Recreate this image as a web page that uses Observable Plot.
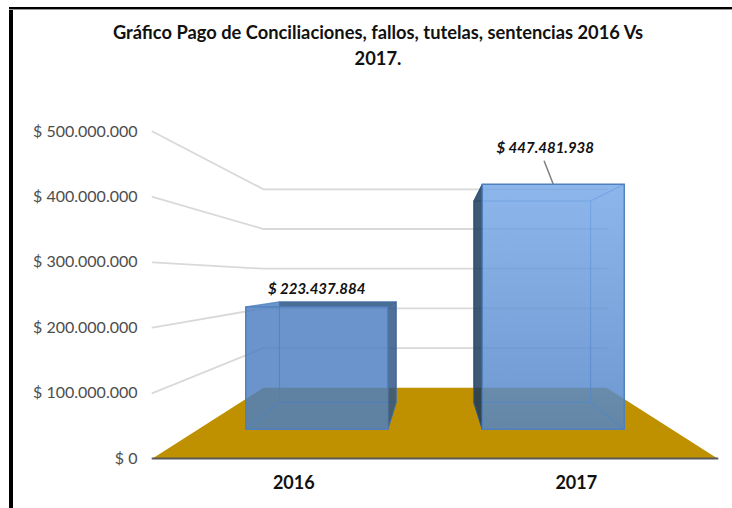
<!DOCTYPE html>
<html>
<head>
<meta charset="utf-8">
<script src="https://cdn.jsdelivr.net/npm/d3@7"></script>
<script src="https://cdn.jsdelivr.net/npm/@observablehq/plot@0.6"></script>
<style>
html,body{margin:0;padding:0;background:#fff;}
#page{position:relative;width:732px;height:508px;overflow:hidden;font-family:Lato,sans-serif;}
#left{position:absolute;left:9px;top:7px;width:3.5px;height:501px;background:#000;}
#top{position:absolute;left:9px;top:7px;right:0;height:2px;background:#000;border-bottom:1px solid #999;}
#title{position:absolute;left:12px;top:19px;width:732px;text-align:center;font-weight:700;font-size:18.3px;line-height:26px;color:#111;}
#chart{position:absolute;left:0;top:80px;}
#chart svg{display:block;background:transparent;}
</style>
</head>
<body>
<div id="page">
  <div id="left"></div><div id="top"></div>
  <div id="title">Gráfico Pago de Conciliaciones, fallos, tutelas, sentencias 2016 Vs<br>2017.</div>
  <div id="chart"></div>
</div>
<script>
// ---- chart values ----
const categories = ["2016", "2017"];
const payments = [223437884, 447481938];
const tickValues = [0, 100000000, 200000000, 300000000, 400000000, 500000000];

// ---- 3D view of the Excel chart, in data units ----
const horizonValue = 275000000;   // value the sight lines converge to
const recede = 0.647;             // how fast depth shrinks the picture
const barInset = 0.2;             // share of a category band left free each side
const barDepth = [0.3, 0.7];      // share of the floor depth used by a bar
const labelShift = [[0, -18], [-8, -36]];
const leader = {du: -0.032, dv: 35000000};
const frontFills = ["#4D7FC1", "url(#barFront)"];
const sideFills = ["#2F5585", "#1A3858"];
const sideStrokes = ["#4a6d96", "#34557a"];

const scaleAt = d => 1 / (1 + recede * d);
const project = (u, v, d) => {
  const s = scaleAt(d), mid = categories.length / 2;
  return {x: mid + (u - mid) * s, y: horizonValue + (v - horizonValue) * s};
};
const quad = (...pts) => pts.map(([u, v, d]) => project(u, v, d));

const money = d3.formatLocale({decimal: ",", thousands: ".", grouping: [3]}).format(",d");
const moneyLabel = v => "$ " + money(v);
const n = categories.length;
const face = (pts, o) => Plot.line(pts, {x: "x", y: "y", curve: "linear-closed", strokeLinejoin: "round", ...o});

const marks = [];
marks.push((index, {y}) => {
  const defs = d3.create("svg:defs");
  const g = defs.append("linearGradient").attr("id", "barFront")
    .attr("gradientUnits", "userSpaceOnUse")
    .attr("x1", 0).attr("x2", 0)
    .attr("y1", y(project(0, d3.max(payments), barDepth[0]).y))
    .attr("y2", y(project(0, 0, barDepth[0]).y));
  g.append("stop").attr("offset", 0).attr("stop-color", "#77A8E8");
  g.append("stop").attr("offset", 1).attr("stop-color", "#5284C7");
  return defs.node();
});

// gridlines on the left and back walls
for (const t of tickValues.slice(1)) {
  marks.push(Plot.line(
    [project(0, t, 0), project(0, t, 1), project(n, t, 1)],
    {x: "x", y: "y", stroke: "#d9d9d9", strokeWidth: 1.8}
  ));
}
// floor
marks.push(face(quad([0, 0, 0], [n, 0, 0], [n, 0, 1], [0, 0, 1]), {fill: "#BF9000"}));
marks.push(Plot.line([project(0, 0, 0), project(n, 0, 0)],
  {x: "x", y: "y", stroke: "#595959", strokeWidth: 2}));

// bars
payments.forEach((v, i) => {
  const u0 = i + barInset, u1 = i + 1 - barInset;
  const [d0, d1] = barDepth;
  const edge = {stroke: "#4A7DBC", strokeWidth: 1.2, strokeOpacity: 0.75};
  const innerU = i < n / 2 ? u1 : u0;   // side that faces the centre is seen from outside
  // edges of the far side of the box, seen through the front
  marks.push(face(quad([u0, 0, d1], [u1, 0, d1], [u1, v, d1], [u0, v, d1]), edge));
  for (const [a, b] of [[u0, 0], [u1, 0], [u0, v], [u1, v]]) {
    marks.push(Plot.line([project(a, b, d0), project(a, b, d1)], {x: "x", y: "y", ...edge}));
  }
  // side seen from outside
  marks.push(face(quad([innerU, 0, d0], [innerU, v, d0], [innerU, v, d1], [innerU, 0, d1]),
    {fill: sideFills[i], fillOpacity: 0.84, stroke: sideStrokes[i], strokeWidth: 1}));
  // top seen from above, only when below the horizon
  if (v < horizonValue) {
    marks.push(face(quad([u0, v, d0], [u1, v, d0], [u1, v, d1], [u0, v, d1]),
      {fill: "#4D7FC1", fillOpacity: 0.84}));
    const a = project(u0, v, d1), b = project(u0, v, d0), c = project(u1, v, d0), e = project(u1, v, d1);
    marks.push(face([{x: a.x, y: b.y}, c, e, a], {fill: "#44658C", fillOpacity: 0.84}));
  }
  // front
  marks.push(face(quad([u0, 0, d0], [u1, 0, d0], [u1, v, d0], [u0, v, d0]),
    {fill: frontFills[i], fillOpacity: 0.84, stroke: "#4F7FBC", strokeWidth: 1.4}));
});

// value labels
payments.forEach((v, i) => {
  const p = project(i + 0.5, v, barDepth[0]);
  marks.push(Plot.text([p], {
    x: "x", y: "y", text: () => moneyLabel(v),
    dx: labelShift[i][0], dy: labelShift[i][1],
    fontSize: 15, fontWeight: 700, fontStyle: "italic", fill: "#111"
  }));
});
// leader line of the second label
{
  const i = 1, p = project(i + 0.5, payments[i], barDepth[0]);
  marks.push(Plot.line([p, {x: p.x + leader.du, y: p.y + leader.dv}],
    {x: "x", y: "y", stroke: "#7f7f7f", strokeWidth: 1.5}));
}

// axes
marks.push(Plot.axisY({
  ticks: tickValues, tickSize: 0, tickPadding: 15, label: null,
  tickFormat: moneyLabel, fontSize: 16, fill: "#4d4d4d"
}));
marks.push(Plot.axisX({
  ticks: categories.map((c, i) => i + 0.5), tickSize: 0, tickPadding: 18, label: null,
  tickFormat: u => categories[Math.floor(u)], fontSize: 18, fontWeight: 700, fill: "#111"
}));

const svg = Plot.plot({
  width: 732, height: 428,
  marginLeft: 152, marginRight: 15, marginTop: 51, marginBottom: 50,
  style: {fontFamily: "Lato, sans-serif", background: "transparent"},
  x: {domain: [0, n]},
  y: {domain: [0, 500000000]},
  marks
});
document.getElementById("chart").append(svg);
</script>
</body>
</html>
